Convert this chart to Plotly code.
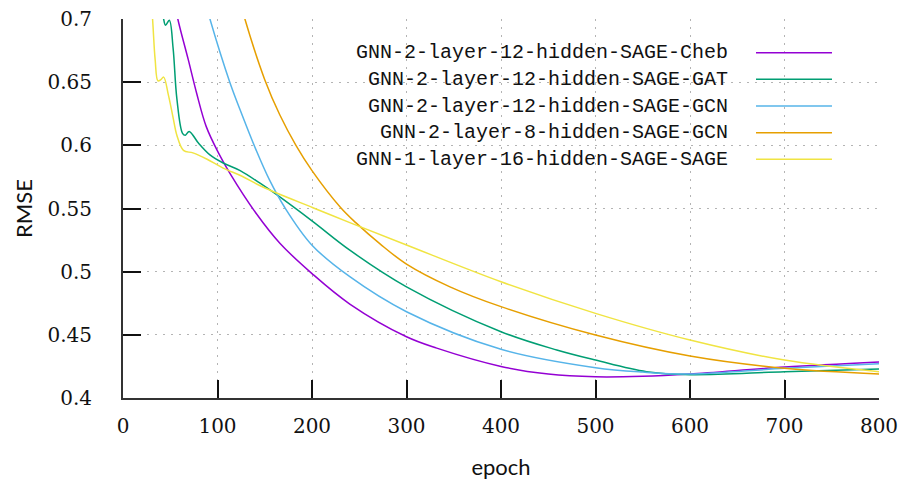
import plotly.graph_objects as go

# ---------------- data ----------------
cheb_epoch = [50, 58, 69, 78, 88, 101, 113, 141, 166, 200, 240, 300, 332, 400, 450, 500, 550, 600, 700, 800]
cheb_rmse = [0.73, 0.70, 0.668, 0.641, 0.615, 0.594, 0.578, 0.546, 0.5225, 0.4985, 0.4744, 0.4485, 0.4395,
             0.4250, 0.4190, 0.4168, 0.4172, 0.4190, 0.4245, 0.4285]

gat_epoch = [38, 43, 45, 49, 53, 57, 63, 66, 70, 80, 92, 106, 124, 145, 163, 201, 240, 300, 400, 459, 500, 554, 600,
             700, 800]
gat_rmse = [0.74, 0.70, 0.695, 0.699, 0.677, 0.637, 0.6095, 0.608, 0.611, 0.6016, 0.5924, 0.586, 0.580, 0.570, 0.5607,
            0.5396, 0.517, 0.488, 0.4525, 0.438, 0.430, 0.4208, 0.4185, 0.4208, 0.423]

gcn12_epoch = [84, 92, 113, 124, 141, 155, 171, 200, 240, 300, 400, 500, 550, 600, 700, 800]
gcn12_rmse = [0.722, 0.70, 0.65, 0.628, 0.596, 0.5726, 0.551, 0.521, 0.496, 0.4683, 0.4386, 0.424,
              0.4205, 0.419, 0.4235, 0.4272]

gcn8_epoch = [118, 129, 150, 166, 183, 200, 230, 246, 272, 300, 346, 400, 500, 600, 700, 800]
gcn8_rmse = [0.731, 0.70, 0.652, 0.624, 0.600, 0.580, 0.551, 0.539, 0.522, 0.506, 0.488, 0.4723, 0.4498, 0.4332,
             0.4235, 0.419]

sage_epoch = [25, 31, 34, 37, 40, 43, 48, 53, 57, 64, 74, 89, 106, 126, 148, 201, 240, 300, 400, 500, 600, 700, 800]
sage_rmse = [0.755, 0.703, 0.668, 0.651, 0.652, 0.654, 0.64, 0.622, 0.608, 0.596, 0.594, 0.589, 0.582, 0.5755, 0.567,
             0.5506, 0.5388, 0.5211, 0.492, 0.467, 0.4459, 0.430, 0.4208]

series_names = [
    "GNN-2-layer-12-hidden-SAGE-Cheb",
    "GNN-2-layer-12-hidden-SAGE-GAT",
    "GNN-2-layer-12-hidden-SAGE-GCN",
    "GNN-2-layer-8-hidden-SAGE-GCN",
    "GNN-1-layer-16-hidden-SAGE-SAGE",
]
series_colors = ["#9400d3", "#009e73", "#56b4e9", "#e69f00", "#f0e442"]

x_ticks = [0, 100, 200, 300, 400, 500, 600, 700, 800]
y_ticks = [0.4, 0.45, 0.5, 0.55, 0.6, 0.65, 0.7]
y_tick_text = ["0.4", "0.45", "0.5", "0.55", "0.6", "0.65", "0.7"]

# ---------------- figure ----------------
xs = [cheb_epoch, gat_epoch, gcn12_epoch, gcn8_epoch, sage_epoch]
ys = [cheb_rmse, gat_rmse, gcn12_rmse, gcn8_rmse, sage_rmse]

fig = go.Figure()
for name, color, x, y in zip(series_names, series_colors, xs, ys):
    fig.add_trace(go.Scatter(x=x, y=y, mode="lines", name=name,
                             line=dict(color=color, width=1.5, shape="spline", smoothing=1.0),
                             showlegend=False, cliponaxis=True))

tick_font = dict(family="DejaVu Serif", size=20, color="#111")
title_font = dict(family="Lato", size=22, color="#111")
grid_dash = "2px,6px"

fig.update_xaxes(range=[0, 800], tickvals=x_ticks, ticks="inside", ticklen=18, tickwidth=1.5,
                 tickcolor="#111", showline=True, linecolor="#333", linewidth=2,
                 showgrid=True, gridcolor="#b4b4b4", griddash=grid_dash, gridwidth=1,
                 zeroline=False, tickfont=tick_font, ticklabelstandoff=9, automargin=False,
                 title=dict(text="epoch", font=title_font, standoff=23))
fig.update_yaxes(range=[0.4, 0.7], tickvals=y_ticks, ticktext=y_tick_text, ticks="inside",
                 ticklen=18, tickwidth=1.5, tickcolor="#111", showline=True, linecolor="#333",
                 linewidth=2, showgrid=True, gridcolor="#b4b4b4", griddash=grid_dash, gridwidth=1,
                 zeroline=False, tickfont=tick_font, ticklabelstandoff=25, automargin=False,
                 title=dict(text="RMSE", font=title_font, standoff=9))

# opaque key box (hides grid behind the key)
fig.add_shape(type="rect", xref="paper", yref="paper", x0=0.300, x1=0.962, y0=0.596, y1=0.9525,
              fillcolor="white", line=dict(width=0), layer="between")

# key: right-aligned text, sample line to the right
key_y = [0.9111, 0.8409, 0.7704, 0.7000, 0.6298]
for name, color, ky in zip(series_names, series_colors, key_y):
    fig.add_annotation(xref="paper", yref="paper", x=0.8029, y=ky, text=name, showarrow=False,
                       xanchor="right", yanchor="middle",
                       font=dict(family="Liberation Mono", size=20, color="#111"))
    fig.add_shape(type="line", xref="paper", yref="paper", x0=0.8373, x1=0.9378, y0=ky, y1=ky,
                  line=dict(color=color, width=1.5), layer="above")

fig.update_layout(width=902, height=481, margin=dict(l=123, r=23, t=19, b=83),
                  paper_bgcolor="white", plot_bgcolor="white", showlegend=False)

fig.write_html("out.html")
